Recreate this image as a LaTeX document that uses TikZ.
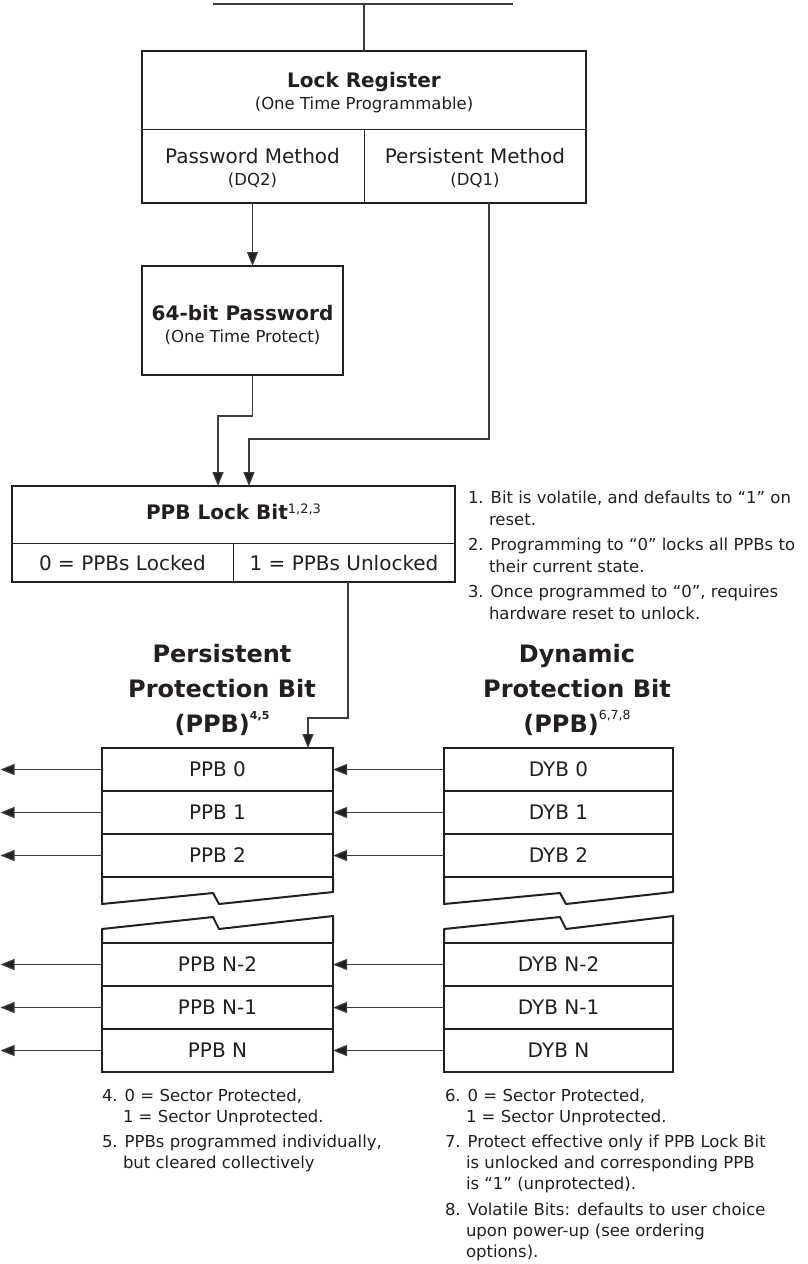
\documentclass[tikz,border=0pt]{standalone}
\usepackage{fontspec}
\setmainfont{DejaVu Sans}
\usetikzlibrary{arrows.meta}
\definecolor{ink}{HTML}{231F20}
\definecolor{wirec}{HTML}{3C3C3C}
\begin{document}
\begin{tikzpicture}[x=1pt,y=-1pt,
  every node/.style={text=ink, inner sep=0pt, outer sep=0pt},
  frame/.style={draw=ink, line width=2pt},
  thinrule/.style={draw=ink, line width=1pt},
  wire/.style={draw=wirec, line width=1.2pt},
  arr/.style={wire, -{Triangle[length=14pt,width=11pt,fill=ink]}},
  rowbox/.style={frame, minimum height=43pt, font=\fontsize{20}{24}\selectfont},
  ppbrow/.style={rowbox, minimum width=231pt},
  dybrow/.style={rowbox, minimum width=229pt},
  txt/.style={font=\fontsize{20}{24}\selectfont, anchor=base},
  txtb/.style={font=\fontsize{20}{24}\selectfont\bfseries, anchor=base},
  sub/.style={font=\fontsize{16.5}{20}\selectfont, anchor=base},
  ttl/.style={font=\fontsize{24}{30}\selectfont\bfseries, anchor=base},
  note/.style={font=\fontsize{16.5}{20}\selectfont, anchor=base west},
]
\useasboundingbox (0,0) rectangle (808,1264);
\fill[white] (0,0) rectangle (808,1264);

% ---- Lock Register
\node[frame, minimum width=444pt, minimum height=152pt] (lr) at (364,127) {};
\coordinate (lrdiv) at (0,129);
\draw[thinrule] (lr.west |- lrdiv) -- (lr.east |- lrdiv);
\draw[thinrule] (lr.center |- lrdiv) -- (lr.south);
\node[txtb] (lrt) at (364,87) {Lock Register};
\node[sub] (lrs) at (364,109) {(One Time Programmable)};
\node[txt] (pm) at (252.5,163) {Password Method};
\node[sub] (pmq) at (252.5,185) {(DQ2)};
\node[txt] (sm) at (475,163) {Persistent Method};
\node[sub] (smq) at (475,185) {(DQ1)};

% ---- 64-bit Password
\node[frame, minimum width=201pt, minimum height=109pt] (pw) at (242.5,320.5) {};
\node[txtb] (pwt) at (242.5,320) {64-bit Password};
\node[sub] (pws) at (242.5,342) {(One Time Protect)};

% ---- PPB Lock Bit
\node[frame, minimum width=443pt, minimum height=96pt] (plb) at (233.5,534) {};
\coordinate (plbdiv) at (0,543);
\coordinate (plbmid) at (233,0);
\draw[thinrule] (plb.west |- plbdiv) -- (plb.east |- plbdiv);
\draw[thinrule] (plbmid |- plbdiv) -- (plbmid |- plb.south);
\node[txtb] (plbt) at (233.5,519) {PPB Lock Bit\raisebox{6pt}{\fontsize{13}{13}\selectfont\mdseries 1,2,3}};
\node[txt] (l0) at (122.5,570) {0 = PPBs Locked};
\node[txt] (l1) at (344,570) {1 = PPBs Unlocked};

% ---- titles
\node[ttl] (pt1) at (222,662) {Persistent};
\node[ttl] (pt2) at (222,697) {Protection Bit};
\node[ttl] (pt3) at (222,732) {(PPB)\raisebox{13pt}{\fontsize{11}{11}\selectfont 4,5}};
\node[ttl] (dt1) at (577,662) {Dynamic};
\node[ttl] (dt2) at (577,697) {Protection Bit};
\node[ttl] (dt3) at (577,732) {(PPB)\raisebox{13pt}{\fontsize{12.5}{12.5}\selectfont\mdseries 6,7,8}};

% ---- PPB rows
\node[ppbrow] (p0) at (217.5,769.5) {PPB 0};
\node[ppbrow] (p1) at (217.5,812.5) {PPB 1};
\node[ppbrow] (p2) at (217.5,855.5) {PPB 2};
\node[ppbrow] (pn2) at (217.5,964.5) {PPB N-2};
\node[ppbrow] (pn1) at (217.5,1007.5) {PPB N-1};
\node[ppbrow] (pn) at (217.5,1050.5) {PPB N};
\draw[frame, line join=round] (p2.south west) -- ++(0,27) -- ++(111,-11) -- ++(6,11) -- ++(114,-12) -- (p2.south east);
\draw[frame, line join=round] (pn2.north west) -- ++(0,-14) -- ++(111,-12) -- ++(6,12) -- ++(114,-13) -- (pn2.north east);

% ---- DYB rows
\node[dybrow] (d0) at (558.5,769.5) {DYB 0};
\node[dybrow] (d1) at (558.5,812.5) {DYB 1};
\node[dybrow] (d2) at (558.5,855.5) {DYB 2};
\node[dybrow] (dn2) at (558.5,964.5) {DYB N-2};
\node[dybrow] (dn1) at (558.5,1007.5) {DYB N-1};
\node[dybrow] (dn) at (558.5,1050.5) {DYB N};
\draw[frame, line join=round] (d2.south west) -- ++(0,27) -- ++(116,-11) -- ++(6,11) -- ++(107,-12) -- (d2.south east);
\draw[frame, line join=round] (dn2.north west) -- ++(0,-14) -- ++(116,-12) -- ++(6,12) -- ++(107,-13) -- (dn2.north east);

% ---- connectors
\coordinate (tl) at (213,4);
\coordinate (tr) at (513,4);
\draw[wire] (tl) -- (tr);
\draw[wire] (lr.north) -- (lr.north |- tl);
\draw[arr] (pm |- lr.south) -- (pm |- pw.north);
\coordinate (j1) at (218,416);
\draw[arr] (pw.south -| pm) |- (j1) -- (j1 |- plb.north);
\coordinate (pcol) at (489,0);
\coordinate (j2) at (249,439);
\draw[arr] (pcol |- lr.south) |- (j2) -- (j2 |- plb.north);
\coordinate (pc2) at (348,0);
\coordinate (j3) at (308,718);
\draw[arr] (pc2 |- plb.south) |- (j3) -- (j3 |- p0.north);
\coordinate (edge) at (0.5,0);
\foreach \r in {p0,p1,p2,pn2,pn1,pn} \draw[arr] (\r.west) -- (\r.west -| edge);
\foreach \a/\b in {d0/p0,d1/p1,d2/p2,dn2/pn2,dn1/pn1,dn/pn} \draw[arr] (\a.west) -- (\b.east);

% ---- notes right
\node[note] (n1a) at (468,503) {1. Bit is volatile, and defaults to “1” on};
\node[note] (n1b) at (489,525) {reset.};
\node[note] (n2a) at (468,550) {2. Programming to “0” locks all PPBs to};
\node[note] (n2b) at (489,572) {their current state.};
\node[note] (n3a) at (468,597) {3. Once programmed to “0”, requires};
\node[note] (n3b) at (489,619) {hardware reset to unlock.};

% ---- notes bottom left
\node[note] (n4a) at (102,1101) {4. 0 = Sector Protected,};
\node[note] (n4b) at (123,1122) {1 = Sector Unprotected.};
\node[note] (n5a) at (102,1147) {5. PPBs programmed individually,};
\node[note] (n5b) at (123,1168) {but cleared collectively};

% ---- notes bottom right
\node[note] (n6a) at (445,1101) {6. 0 = Sector Protected,};
\node[note] (n6b) at (466,1122) {1 = Sector Unprotected.};
\node[note] (n7a) at (445,1147) {7. Protect effective only if PPB Lock Bit};
\node[note] (n7b) at (466,1168) {is unlocked and corresponding PPB};
\node[note] (n7c) at (466,1189) {is “1” (unprotected).};
\node[note] (n8a) at (445,1215) {8. Volatile Bits: defaults to user choice};
\node[note] (n8b) at (466,1236) {upon power-up (see ordering};
\node[note] (n8c) at (466,1257) {options).};
\end{tikzpicture}
\end{document}
